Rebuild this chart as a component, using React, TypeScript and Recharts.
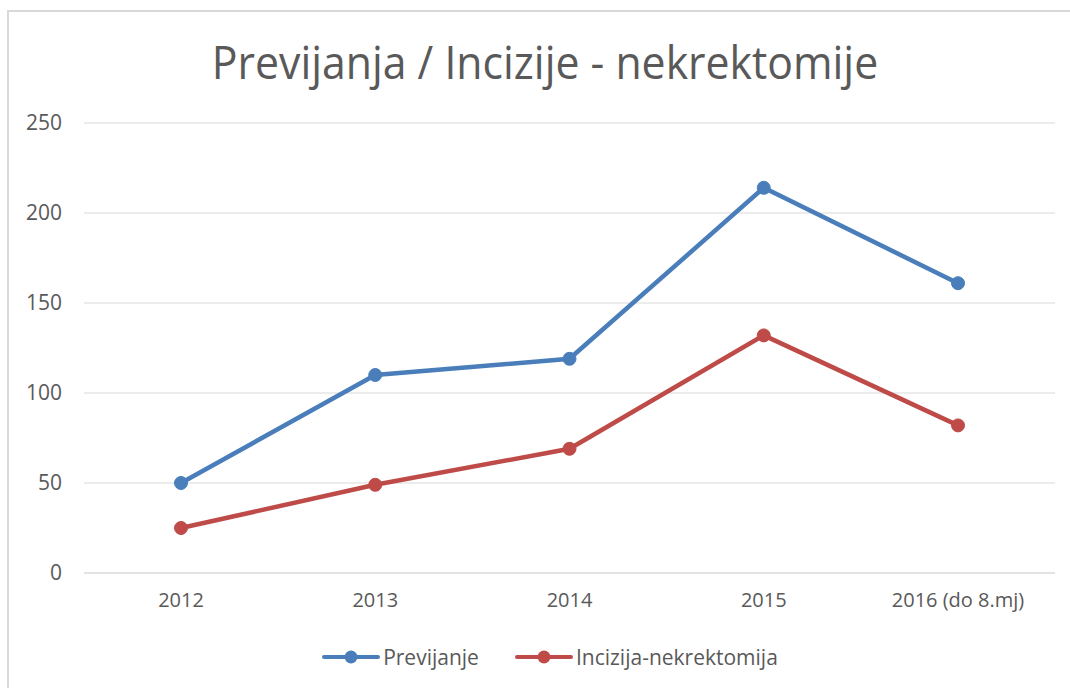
import React from 'react';
import { LineChart, Line, XAxis, YAxis, CartesianGrid } from 'recharts';

const years = ['2012', '2013', '2014', '2015', '2016 (do 8.mj)'];
const previjanje = [50, 110, 119, 214, 161];
const incizija = [25, 49, 69, 132, 82];
const yTicks = [0, 50, 100, 150, 200, 250];

const BLUE = '#4a7ebb';
const RED = '#be4b48';
const FONT = '"Open Sans", sans-serif';

const data = years.map((year, i) => ({
  year,
  previjanje: previjanje[i],
  incizija: incizija[i],
}));

const legendItems = [
  { label: 'Previjanje', color: BLUE },
  { label: 'Incizija-nekrektomija', color: RED },
];

function ChartLegend() {
  return (
    <div
      style={{
        position: 'absolute', left: 0, top: 644, width: 1100, display: 'flex', justifyContent: 'center', gap: 36,
        fontFamily: FONT, fontSize: 21, color: '#595959', lineHeight: '26px',
      }}
    >
      {legendItems.map((item) => (
        <div key={item.label} style={{ display: 'flex', alignItems: 'center' }}>
          <svg width={58} height={16} style={{ marginRight: 3 }}>
            <line x1={2} y1={8} x2={56} y2={8} stroke={item.color} strokeWidth={4} strokeLinecap="round" />
            <circle cx={29} cy={8} r={6.5} fill={item.color} />
          </svg>
          <span>{item.label}</span>
        </div>
      ))}
    </div>
  );
}

export default function App() {
  return (
    <div style={{ position: 'absolute', left: 0, top: 0, width: 1070, height: 688, background: '#fff', overflow: 'hidden' }}>
      <div
        style={{
          position: 'absolute', left: 7, top: 10, width: 1080, height: 700,
          borderLeft: '2px solid #d9d9d9', borderTop: '2px solid #d9d9d9',
        }}
      />
      <div
        style={{
          position: 'absolute', left: 0, top: 31, width: 1090, textAlign: 'center',
          fontFamily: FONT, fontSize: 45, color: '#595959', transform: 'scaleX(0.95)', transformOrigin: '545px 0',
        }}
      >
        Previjanja / Incizije - nekrektomije
      </div>
      <div style={{ position: 'absolute', left: 0, top: 0 }}>
        <LineChart width={1070} height={688} data={data} margin={{ top: 123, right: 15, bottom: 0, left: 0 }}>
          <CartesianGrid vertical={false} stroke="#d9d9d9" strokeWidth={1} />
          <XAxis
            dataKey="year"
            padding={{ left: 97, right: 97 }}
            axisLine={{ stroke: '#d9d9d9' }}
            tickLine={false}
            tickSize={0}
            tickMargin={20}
            interval={0}
            tick={{ fill: '#595959', fontSize: 20, fontFamily: FONT }}
            height={115}
          />
          <YAxis
            domain={[0, 250]}
            ticks={yTicks}
            axisLine={false}
            tickLine={false}
            tickSize={0}
            tickMargin={22}
            width={84}
            tick={{ fill: '#595959', fontSize: 21, fontFamily: FONT }}
          />
          <Line
            type="linear"
            dataKey="previjanje"
            name="Previjanje"
            stroke={BLUE}
            strokeWidth={4.5}
            dot={{ r: 6.5, fill: BLUE, stroke: BLUE, strokeWidth: 1 }}
            isAnimationActive={false}
          />
          <Line
            type="linear"
            dataKey="incizija"
            name="Incizija-nekrektomija"
            stroke={RED}
            strokeWidth={4.5}
            dot={{ r: 6.5, fill: RED, stroke: RED, strokeWidth: 1 }}
            isAnimationActive={false}
          />
        </LineChart>
      </div>
      <ChartLegend />
    </div>
  );
}
